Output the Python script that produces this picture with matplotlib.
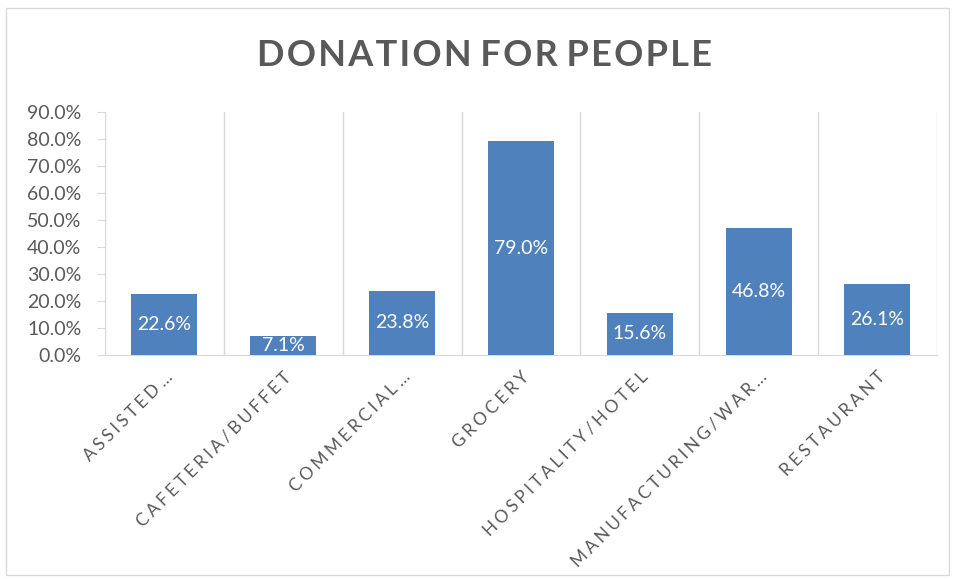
import numpy as np
import matplotlib.pyplot as plt
from matplotlib.patches import Rectangle

categories = ['ASSISTED …', 'CAFETERIA/BUFFET', 'COMMERCIAL …', 'GROCERY',
              'HOSPITALITY/HOTEL', 'MANUFACTURING/WAR…', 'RESTAURANT']
values = [22.6, 7.1, 23.8, 79.0, 15.6, 46.8, 26.1]
yticks = [0, 10, 20, 30, 40, 50, 60, 70, 80, 90]
title = 'DONATION FOR PEOPLE'

plt.rcParams['font.family'] = ['Lato', 'DejaVu Sans']
text_col = '#595959'
grid_col = '#D9D9D9'
bar_col = '#4F81BD'


def spaced(s, sep='\u2009'):
    # rough letter spacing, matplotlib has no tracking option
    out = s[0]
    for a, b in zip(s[:-1], s[1:]):
        out += ('' if ' ' in (a, b) else sep) + b
    return out


fig = plt.figure(figsize=(9.55, 5.79), dpi=100)
fig.patches.append(Rectangle((0.006, 0.007), 0.988, 0.979, transform=fig.transFigure,
                             fill=False, edgecolor=grid_col, linewidth=1))
ax = fig.add_axes([0.110, 0.387, 0.871, 0.420])

x = np.arange(len(categories))
ax.bar(x, values, width=0.555, color=bar_col, zorder=3)
for xi, v in zip(x, values):
    ax.text(xi, v / 2, '%.1f%%' % v, ha='center', va='center', color='white',
            fontsize=14, zorder=4)

ax.set_xlim(-0.5, len(categories) - 0.5)
ax.set_ylim(0, 90)
ax.set_yticks(yticks)
ax.set_yticklabels(['%.1f%%' % t for t in yticks], fontsize=14, color=text_col)
ax.tick_params(axis='y', length=6, color=grid_col, pad=11)

# vertical gridlines between categories
for b in np.arange(-0.5, len(categories), 1.0):
    ax.axvline(b, color=grid_col, linewidth=1, zorder=1)

ax.set_xticks(x)
ax.set_xticklabels([spaced(c, '\u2009\u200a') for c in categories], rotation=45,
                   ha='right', rotation_mode='anchor', fontsize=12.5, color=text_col)
ax.tick_params(axis='x', length=0, pad=10)

for s in ['top', 'right', 'left']:
    ax.spines[s].set_visible(False)
ax.spines['bottom'].set_color(grid_col)

fig.text(0.507, 0.905, spaced(title, '\u200a'), ha='center', va='center',
         fontsize=26, fontweight='bold', color=text_col)

plt.savefig('out.png', dpi=100)
